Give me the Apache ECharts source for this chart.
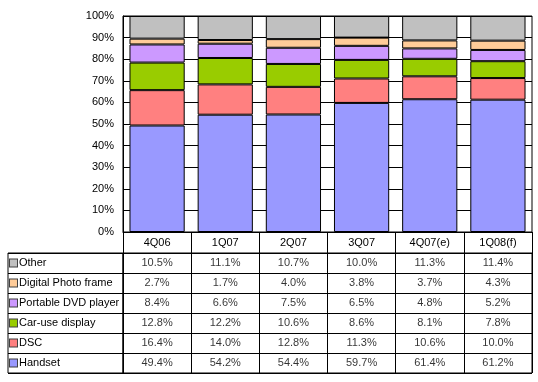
<!DOCTYPE html>
<html>
<head>
<meta charset="utf-8">
<script src="https://cdn.jsdelivr.net/npm/echarts@6/dist/echarts.min.js"></script>
<style>
html,body{margin:0;padding:0;background:#fff;}
#chart{width:538px;height:382px;}
</style>
</head>
<body>
<div id="chart"></div>
<script>
const categories = ['4Q06', '1Q07', '2Q07', '3Q07', '4Q07(e)', '1Q08(f)'];
const seriesNames = ['Handset', 'DSC', 'Car-use display', 'Portable DVD player', 'Digital Photo frame', 'Other'];
const handset = [49.4, 54.2, 54.4, 59.7, 61.4, 61.2];
const dsc = [16.4, 14.0, 12.8, 11.3, 10.6, 10.0];
const carUse = [12.8, 12.2, 10.6, 8.6, 8.1, 7.8];
const dvdPlayer = [8.4, 6.6, 7.5, 6.5, 4.8, 5.2];
const photoFrame = [2.7, 1.7, 4.0, 3.8, 3.7, 4.3];
const other = [10.5, 11.1, 10.7, 10.0, 11.3, 11.4];
const colors = ['#9999FF', '#FF8080', '#99CC00', '#CC99FF', '#FFCC99', '#C0C0C0'];
const yMin = 0, yMax = 100, yInterval = 10;

const values = [handset, dsc, carUse, dvdPlayer, photoFrame, other];
const totals = categories.map((c, i) => values.reduce((s, arr) => s + arr[i], 0));
const FONT = 'Liberation Sans, Arial, sans-serif';

// table row order: top to bottom
const tableOrder = [5, 4, 3, 2, 1, 0];
const rowNames = tableOrder.map(i => seriesNames[i]);

const rich = { t: { fontSize: 11, fontFamily: FONT, color: '#000', padding: [0, 0, 0, 2] } };
tableOrder.forEach((si, r) => {
  rich['s' + r] = { width: 7, height: 7, backgroundColor: colors[si], borderColor: '#404040', borderWidth: 1 };
});

const barSeries = seriesNames.map((name, si) => ({
  name: name,
  type: 'bar',
  stack: 'total',
  xAxisIndex: 0,
  yAxisIndex: 0,
  barCategoryGap: '19%',
  itemStyle: { color: colors[si], borderColor: '#000', borderWidth: 1 },
  data: values[si].map((v, i) => v / totals[i] * 100)
}));

const cellData = [];
tableOrder.forEach((si, r) => {
  categories.forEach((c, ci) => {
    cellData.push([c, seriesNames[si], values[si][ci]]);
  });
});

const option = {
  animation: false,
  backgroundColor: '#fff',
  textStyle: { fontFamily: FONT },
  grid: [
    { left: 123, top: 16, width: 409, height: 216, show: true, borderColor: '#000', borderWidth: 1, backgroundColor: '#fff' },
    { left: 123, top: 253, width: 409, height: 120, show: true, borderColor: '#000', borderWidth: 1 },
    { left: 8, top: 253, width: 115, height: 120, show: true, borderColor: '#000', borderWidth: 1 }
  ],
  xAxis: [
    {
      gridIndex: 0, type: 'category', data: categories,
      axisLine: { lineStyle: { color: '#000', width: 1 } },
      axisTick: { show: true, length: 21, interval: 0, lineStyle: { color: '#000' } },
      axisLabel: { interval: 0, margin: 5, fontSize: 11, color: '#000', fontFamily: FONT },
      splitLine: { show: false }
    },
    {
      gridIndex: 1, type: 'category', data: categories,
      axisLine: { show: false }, axisTick: { show: false }, axisLabel: { show: false },
      splitLine: { show: true, interval: 0, lineStyle: { color: '#000', width: 1 } }
    },
    {
      gridIndex: 2, type: 'category', data: [''],
      axisLine: { show: false }, axisTick: { show: false }, axisLabel: { show: false },
      splitLine: { show: false }
    }
  ],
  yAxis: [
    {
      gridIndex: 0, type: 'value', min: yMin, max: yMax, interval: yInterval,
      axisLine: { show: true, lineStyle: { color: '#000' } },
      axisTick: { show: false },
      axisLabel: { formatter: '{value}%', fontSize: 11, color: '#000', margin: 9, fontFamily: FONT },
      splitLine: { show: true, lineStyle: { color: '#000', width: 1 } }
    },
    {
      gridIndex: 1, type: 'category', data: rowNames, inverse: true,
      axisLine: { show: false }, axisTick: { show: false },
      axisLabel: {
        interval: 0, align: 'left', margin: 113,
        formatter: (v, idx) => '{s' + idx + '|}{t|' + v + '}',
        rich: rich
      },
      splitLine: { show: true, interval: 0, lineStyle: { color: '#000', width: 1 } }
    },
    {
      gridIndex: 2, type: 'category', data: rowNames, inverse: true,
      axisLine: { show: false }, axisTick: { show: false }, axisLabel: { show: false },
      splitLine: { show: true, interval: 0, lineStyle: { color: '#000', width: 1 } }
    }
  ],
  series: barSeries.concat([
    {
      type: 'scatter', xAxisIndex: 1, yAxisIndex: 1,
      symbol: 'rect', symbolSize: 1,
      itemStyle: { color: 'rgba(0,0,0,0)' },
      silent: true,
      label: {
        show: true, position: 'inside',
        formatter: p => p.value[2].toFixed(1) + '%',
        fontSize: 11, color: '#000', fontFamily: FONT
      },
      data: cellData
    }
  ])
};

const chart = echarts.init(document.getElementById('chart'), null, { renderer: 'canvas' });
chart.setOption(option);
</script>
</body>
</html>
